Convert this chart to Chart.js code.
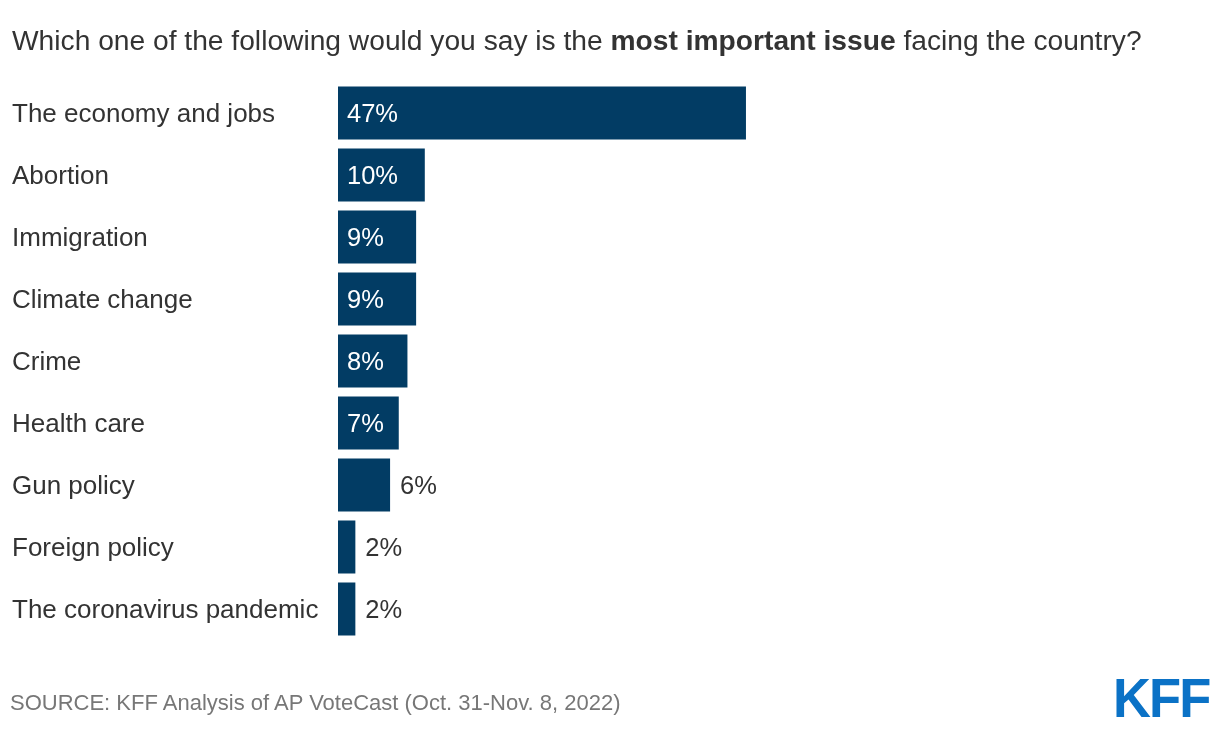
<!DOCTYPE html>
<html>
<head>
<meta charset="utf-8">
<script src="https://cdn.jsdelivr.net/npm/chart.js@4.4.1/dist/chart.umd.min.js"></script>
<style>
  html, body { margin: 0; padding: 0; background: #fff; }
  body { width: 1220px; height: 736px; position: relative; overflow: hidden; font-family: "Liberation Sans", Arial, sans-serif; }
  #title { position: absolute; left: 12px; top: 23px; font-size: 28.2px; color: #333; white-space: nowrap; line-height: 34px; }
  #title b { color: #333; }
  #wrap { position: absolute; left: 0; top: 0; width: 1220px; height: 736px; }
  #source { position: absolute; left: 10px; top: 690px; font-size: 22px; color: #777; white-space: nowrap; line-height: 26px; }
  #logo { position: absolute; left: 1113px; top: 668px; font-size: 55px; font-weight: bold; color: #0b72c6; line-height: 60px; letter-spacing: -2px; transform: scaleX(0.955); transform-origin: left top; }
</style>
</head>
<body>
<div id="wrap"><canvas id="c" width="1220" height="736"></canvas></div>
<div id="title">Which one of the following would you say is the <b>most important issue</b> facing the country?</div>
<div id="source">SOURCE: KFF Analysis of AP VoteCast (Oct. 31-Nov. 8, 2022)</div>
<div id="logo">KFF</div>
<script>
const categories = [
  "The economy and jobs",
  "Abortion",
  "Immigration",
  "Climate change",
  "Crime",
  "Health care",
  "Gun policy",
  "Foreign policy",
  "The coronavirus pandemic"
];
const values = [47, 10, 9, 9, 8, 7, 6, 2, 2];

const valueLabels = {
  id: 'valueLabels',
  afterDatasetsDraw(chart) {
    const ctx = chart.ctx;
    const meta = chart.getDatasetMeta(0);
    ctx.save();
    ctx.font = '25.5px "Liberation Sans", Arial, sans-serif';
    ctx.textBaseline = 'middle';
    ctx.textAlign = 'left';
    meta.data.forEach((bar, i) => {
      const v = values[i];
      const txt = v + '%';
      if (v >= 7) {
        ctx.fillStyle = '#ffffff';
        ctx.fillText(txt, bar.base + 9, bar.y + 2);
      } else {
        ctx.fillStyle = '#333333';
        ctx.fillText(txt, bar.x + 10, bar.y + 2);
      }
    });
    ctx.restore();
  }
};

new Chart(document.getElementById('c'), {
  type: 'bar',
  data: {
    labels: categories,
    datasets: [{
      data: values,
      backgroundColor: '#023c64',
      borderWidth: 0,
      categoryPercentage: 1,
      barPercentage: 0.855
    }]
  },
  options: {
    indexAxis: 'y',
    responsive: false,
    animation: false,
    devicePixelRatio: 1,
    layout: { padding: { left: 12, right: 14, top: 82, bottom: 96 } },
    plugins: { legend: { display: false }, tooltip: { enabled: false }, title: { display: false } },
    scales: {
      x: { min: 0, max: 100, display: false, grid: { display: false } },
      y: {
        grid: { display: false },
        border: { display: false },
        ticks: {
          crossAlign: 'far',
          color: '#333333',
          font: { family: '"Liberation Sans", Arial, sans-serif', size: 26 },
          padding: 0
        },
        afterFit(scale) { scale.width = 326; },
        afterUpdate(scale) {
          if (!scale._shifted) {
            const orig = scale.drawLabels;
            scale.drawLabels = function (area) {
              const ctx = this.ctx;
              ctx.save();
              ctx.translate(0, 2);
              orig.call(this, area);
              ctx.restore();
            };
            scale._shifted = true;
          }
        }
      }
    }
  },
  plugins: [valueLabels]
});
</script>
</body>
</html>
